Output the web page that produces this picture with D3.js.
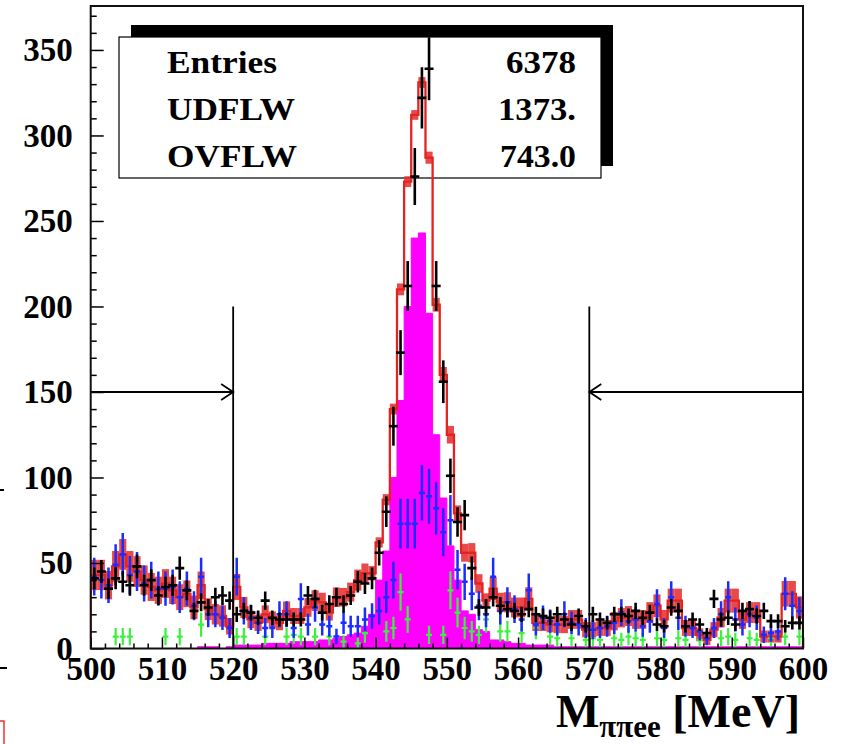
<!DOCTYPE html>
<html><head><meta charset="utf-8">
<script src="https://cdn.jsdelivr.net/npm/d3@7"></script>
<style>
body{margin:0;background:#fff;}
svg{display:block;font-family:"Liberation Serif","Times New Roman",serif;font-weight:bold;}
</style>
</head><body>
<svg id="c" width="849" height="744"></svg>
<script>
// ---- data (1 MeV bins, 500..600 MeV) ----
const binLow = 500;
const dataCounts = [41,45,35,41,39,37,48,37,40,31,
 36,37,47,34,22,27,24,30,31,28,
 20,22,21,18,28,18,17,17,17,17,
 31,29,21,26,30,26,31,39,38,41,
 56,80,130,173,212,276,322,339,212,156,
 101,74,78,47,24,24,30,25,23,22,
 20,23,20,19,18,20,17,14,19,13,
 20,17,15,20,20,19,22,18,21,14,
 13,24,22,13,17,14,9,29,17,18,
 14,22,23,19,22,16,16,13,15,15];
const totalMC = [43,43,37,48,55,48,45,40,36,34,
 38,34,30,32,24,37,23,20,19,13,
 36,24,17,15,20,17,15,22,19,19,
 24,28,27,21,30,30,33,40,44,44,
 62,87,140,210,273,312,331,287,201,160,
 125,79,56,56,38,28,35,27,27,24,
 24,29,15,15,14,14,14,17,17,11,
 11,12,12,16,18,19,17,17,21,25,
 17,28,28,12,12,8,5,11,18,28,
 28,17,21,21,7,7,7,32,32,24];
const signalMC = [0,0,0,0,0,0,0,0,0,0,
 0,0,0,0,0,1,1,1,0,1,
 2,2,2,2,3,3,3,3,4,4,
 4,4,5,5,6,7,8,9,13,20,
 40,57,100,145,200,240,243,196,125,88,
 60,40,22,20,11,10,5,5,4,3,
 3,2,2,2,2,1,1,1,1,1,
 1,1,1,1,1,1,1,1,1,1,
 1,1,1,1,1,1,1,1,1,1,
 1,1,1,1,1,1,1,1,1,1];
const bkgBlue = [42,40,37,49,55,43,45,38,40,35,
 35,36,30,35,25,42,20,20,18,12,
 42,22,18,15,12,12,20,20,12,29,
 14,24,14,13,7,15,13,13,17,19,
 22,30,40,73,73,73,91,89,82,68,
 75,46,39,32,25,20,42,22,27,23,
 17,34,14,18,16,14,20,15,14,12,
 11,12,13,15,21,16,17,13,16,26,
 12,30,18,13,12,10,6,12,20,30,
 17,14,20,18,8,9,10,32,25,22];
const bkgGreen = [0,0,0,7,7,7,0,0,0,0,
 7,0,7,0,0,14,0,0,0,0,
 7,7,0,0,7,0,0,7,8,7,
 0,7,0,7,0,4,0,3,9,0,
 0,10,12,33,17,0,0,8,0,8,
 34,21,12,10,8,17,0,10,10,0,
 9,0,12,0,7,6,0,6,0,5,
 6,5,0,6,5,7,6,5,0,6,
 5,0,6,5,0,5,0,0,6,7,
 5,0,6,5,0,6,0,7,0,7];
const xTickValues = [500,510,520,530,540,550,560,570,580,590,600];
const yTickValues = [0,50,100,150,200,250,300,350];
const statLabels = ["Entries","UDFLW","OVFLW"];
const statValues = ["6378","1373.","743.0"];
const cutLow = 520, cutHigh = 570, cutTop = 200, arrowLevel = 150;

// ---- layout ----
const L = 90.7, R = 803, T = 6, B = 648.5;
const svg = d3.select("#c");
const x = d3.scaleLinear().domain([500, 600]).range([L, R]);
const y = d3.scaleLinear().domain([0, 375.7]).range([B, T]);

// stats box (drawn beneath the histograms, as in the reference)
svg.append("rect").attr("x",131).attr("y",25).attr("width",482).attr("height",141).attr("fill","#000");
svg.append("rect").attr("x",119).attr("y",37).attr("width",482).attr("height",141)
  .attr("fill","#fff").attr("stroke","#000").attr("stroke-width",1.2);
const base=[73,120,167];
const labW=[110,128,130], valW=[70,78,76];
statLabels.forEach((s,i)=>{
  svg.append("text").attr("x",167).attr("y",base[i]).attr("font-size",31)
    .attr("textLength",labW[i]).attr("lengthAdjust","spacingAndGlyphs").text(s);
  svg.append("text").attr("x",576-valW[i]).attr("y",base[i]).attr("font-size",31)
    .attr("textLength",valW[i]).attr("lengthAdjust","spacingAndGlyphs").text(statValues[i]);
});

svg.append("defs").append("clipPath").attr("id","clip")
  .append("rect").attr("x",L).attr("y",T).attr("width",R-L).attr("height",B-T);
const plot = svg.append("g").attr("clip-path","url(#clip)");

function stepPoints(vals){
  const p=[[binLow,0]];
  vals.forEach((v,i)=>{p.push([binLow+i,v]);p.push([binLow+i+1,v]);});
  p.push([binLow+vals.length,0]);
  return p;
}
// signal (magenta filled)
plot.append("path")
  .attr("d", d3.area().x(d=>x(d[0])).y0(y(0)).y1(d=>y(d[1]))(stepPoints(signalMC)))
  .attr("fill","#ff00ff").attr("stroke","#ff00ff").attr("stroke-width",1);

// total MC error boxes
function mcErr(d,i){
  const b = Math.max(d-signalMC[i],0);
  return Math.min(8,1.2*Math.sqrt(b))*(d>0? b/d : 0)+1;
}
plot.append("g").selectAll("rect").data(totalMC).join("rect")
  .attr("x",(d,i)=>x(binLow+i)).attr("width",(d,i)=>x(binLow+i+1)-x(binLow+i))
  .attr("y",(d,i)=>y(d+mcErr(d,i)))
  .attr("height",(d,i)=>y(d-mcErr(d,i))-y(d+mcErr(d,i)))
  .attr("fill","#e42a2a").attr("opacity",0.85);
// total MC outline
plot.append("path")
  .attr("d", d3.line().x(d=>x(d[0])).y(d=>y(d[1]))(stepPoints(totalMC)))
  .attr("fill","none").attr("stroke","#e42222").attr("stroke-width",2.3);

function points(vals, errFn, color, hw, lw){
  const g = plot.append("g").attr("stroke",color).attr("stroke-width",lw);
  vals.forEach((v,i)=>{
    if(v<=0) return;
    const cx = x(binLow+i+0.5), e = errFn(v);
    g.append("line").attr("x1",cx).attr("x2",cx).attr("y1",y(v-e)).attr("y2",y(v+e));
    g.append("line").attr("x1",cx-hw).attr("x2",cx+hw).attr("y1",y(v)).attr("y2",y(v));
  });
}
points(bkgGreen, v=>1.9*Math.sqrt(v), "#3ef03e", 3, 2.2);
points(bkgBlue, v=>1.7*Math.sqrt(v), "#1a2cff", 3, 2.5);
points(dataCounts, v=>Math.sqrt(v), "#000", 4.5, 2.6);

// cut lines & arrows
const ag = svg.append("g").attr("stroke","#000").attr("stroke-width",1.8).attr("fill","none");
[cutLow,cutHigh].forEach(c=>{
  ag.append("line").attr("x1",x(c)).attr("x2",x(c)).attr("y1",y(cutTop)).attr("y2",y(0));
});
ag.append("line").attr("x1",x(500)).attr("x2",x(cutLow)).attr("y1",y(arrowLevel)).attr("y2",y(arrowLevel));
ag.append("line").attr("x1",x(cutHigh)).attr("x2",x(600)).attr("y1",y(arrowLevel)).attr("y2",y(arrowLevel));
ag.append("path").attr("d",`M${x(cutLow)-12},${y(arrowLevel)-8}L${x(cutLow)},${y(arrowLevel)}L${x(cutLow)-12},${y(arrowLevel)+8}`);
ag.append("path").attr("d",`M${x(cutHigh)+12},${y(arrowLevel)-8}L${x(cutHigh)},${y(arrowLevel)}L${x(cutHigh)+12},${y(arrowLevel)+8}`);

// axes
const fs = 33;
svg.append("g").attr("transform",`translate(${L},0)`)
  .call(d3.axisLeft(y).tickValues(yTickValues).tickSizeInner(-13).tickSizeOuter(0).tickPadding(18));
svg.append("g").attr("transform",`translate(${L},0)`)
  .call(d3.axisLeft(y).tickValues(d3.range(0,376,10).filter(v=>v%50)).tickSizeInner(-6).tickSizeOuter(0).tickFormat(""));
svg.append("g").attr("transform",`translate(0,${B})`)
  .call(d3.axisBottom(x).tickValues(xTickValues).tickSizeInner(-11).tickSizeOuter(0).tickPadding(8));
svg.append("g").attr("transform",`translate(0,${B})`)
  .call(d3.axisBottom(x).tickValues(d3.range(502,600,2).filter(v=>v%10)).tickSizeInner(-5).tickSizeOuter(0).tickFormat(""));
svg.selectAll(".domain").remove();
svg.selectAll(".tick line").attr("stroke","#000").attr("stroke-width",1.5);
svg.selectAll(".tick text").attr("font-family","Liberation Serif").attr("font-weight","bold")
  .attr("font-size",fs).attr("fill","#000");

// frame
svg.append("rect").attr("x",L).attr("y",T).attr("width",R-L).attr("height",B-T)
  .attr("fill","none").attr("stroke","#111").attr("stroke-width",2);

// axis title
const tt = svg.append("text").attr("x",800).attr("y",727).attr("text-anchor","end")
  .attr("font-size",46).attr("fill","#000");
tt.append("tspan").text("M");
tt.append("tspan").attr("font-size",31).attr("dy",10).text("ππee");
tt.append("tspan").attr("dy",-10).text(" [MeV]");

// stray marks from a neighbouring panel at the left edge
svg.append("line").attr("x1",0).attr("x2",7).attr("y1",668).attr("y2",668).attr("stroke","#000").attr("stroke-width",2);
svg.append("line").attr("x1",0).attr("x2",4).attr("y1",490).attr("y2",490).attr("stroke","#000").attr("stroke-width",2);
svg.append("rect").attr("x",-10).attr("y",721).attr("width",14).attr("height",40)
  .attr("fill","none").attr("stroke","#e33").attr("stroke-width",1.5);
</script>
</body></html>
